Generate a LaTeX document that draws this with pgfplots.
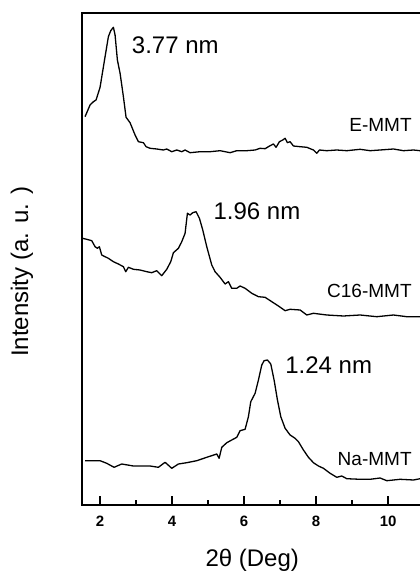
\documentclass[border=0pt]{standalone}
\usepackage{fontspec}
\setmainfont{Liberation Sans}
\usepackage{pgfplots}
\pgfplotsset{compat=1.18}
\pgfplotsset{xrd/.style={black, line width=1.3pt, line join=round, mark=none}}

\begin{document}
\begin{tikzpicture}
\begin{axis}[
    scale only axis,
    width=341pt, height=492pt,
    at={(81.7pt,66pt)}, anchor=south west,
    xmin=1.49, xmax=10.96, ymin=0, ymax=492,
    xtick={2,4,6,8,10}, minor xtick={3,5,7,9},
    ytick=\empty,
    xtick pos=bottom, tick align=inside,
    major tick length=9pt, minor tick length=5pt,
    every tick/.style={black, line width=1.4pt},
    axis line style={line width=2pt},
    /pgf/number format/assume math mode=true,
    xticklabel style={font=\bfseries\fontsize{15}{15}\selectfont, anchor=base, yshift=-21pt},
    xlabel={2θ (Deg)},
    ylabel={Intensity (a. u. )},
    xlabel style={font=\fontsize{24}{24}\selectfont, at={(axis description cs:0.5,-0.112)}, anchor=center},
    ylabel style={font=\fontsize{24}{24}\selectfont, at={(axis description cs:-0.175,0.474)}, anchor=center},
]

% E-MMT
\addplot[xrd] coordinates {
(1.583,388.3) (1.722,400) (1.815,403.3) (1.889,405) (2.0,417.7) (2.139,448.3)
(2.231,468.3) (2.296,474.3) (2.370,477.7) (2.417,470) (2.481,445) (2.556,431.7)
(2.648,408.3) (2.722,387.7) (2.833,382.3) (2.972,370) (3.065,363.3) (3.204,362.3)
(3.278,358.3) (3.389,356.7) (3.574,356) (3.759,355) (3.852,356) (3.991,353.3)
(4.130,355) (4.269,353.3) (4.361,355) (4.500,352.3) (4.778,353.3) (5.056,353.3)
(5.333,354.3) (5.611,352.3) (5.796,354.3) (6.074,354.3) (6.306,355) (6.444,356.7)
(6.583,356.3) (6.722,359.3) (6.815,361) (6.889,357.7) (6.981,363.3) (7.074,365)
(7.139,366.7) (7.204,362.3) (7.278,363.3) (7.370,359) (7.556,358.3) (7.741,357.7)
(7.926,355) (8.019,351.7) (8.093,355) (8.296,354.3) (8.574,355) (8.852,354.3)
(9.222,355.7) (9.500,354.3) (9.778,355) (10.148,356) (10.426,354.3) (10.704,355)
(10.889,354.3)
};

% C16-MMT
\addplot[xrd] coordinates {
(1.491,278.3) (1.509,266.7) (1.630,265.7) (1.769,264.3) (1.861,258.3) (1.926,256.7)
(1.981,258.3) (2.046,250) (2.139,248.3) (2.231,246.7) (2.370,243.3) (2.509,241)
(2.648,238.3) (2.713,233.3) (2.787,237.7) (2.926,235.7) (3.111,235) (3.296,233.3)
(3.435,232.3) (3.574,234.3) (3.713,229.3) (3.852,235.7) (3.963,243.3) (4.037,252.3)
(4.176,256.7) (4.269,263.3) (4.361,271.7) (4.426,291.7) (4.500,290) (4.574,292.3)
(4.667,293.3) (4.759,286.7) (4.852,275) (4.963,258.3) (5.102,240) (5.194,233.3)
(5.333,227.7) (5.472,221) (5.565,223.3) (5.657,216.7) (5.796,216.7) (5.889,219)
(6.028,216.7) (6.213,211.7) (6.398,208.3) (6.583,207.7) (6.769,203.3) (6.954,199)
(7.139,194.3) (7.278,195.7) (7.556,195) (7.741,190) (7.926,191.7) (8.296,190)
(8.759,189) (9.222,190) (9.685,188.3) (10.148,190) (10.519,188.3) (10.889,188.3)
};

% Na-MMT
\addplot[xrd] coordinates {
(1.583,44.3) (2.0,44.3) (2.185,41.7) (2.389,37.7) (2.602,41) (2.926,39)
(3.389,39) (3.620,37.7) (3.806,42.7) (3.991,36.7) (4.176,41) (4.407,42.3)
(4.685,44.3) (4.963,47.7) (5.241,51) (5.306,46.7) (5.380,57.7) (5.519,62.3)
(5.657,65) (5.796,67.7) (5.889,74.3) (6.028,75.7) (6.120,88.3) (6.185,103.3)
(6.306,111.7) (6.398,125) (6.491,140) (6.556,144.3) (6.648,145) (6.741,141)
(6.833,125) (6.926,105) (7.019,88.3) (7.139,76.7) (7.278,70) (7.417,66.7)
(7.509,63.3) (7.648,55) (7.787,47.7) (7.926,42.3) (8.065,39) (8.204,36.7)
(8.389,31.7) (8.574,27.7) (8.713,29) (8.852,26.3) (9.222,25.7) (9.500,25.7)
(9.778,27) (9.963,24.3) (10.333,25.7) (10.704,25) (10.889,26.3)
};

\node[anchor=base west, inner sep=0pt, font=\fontsize{24}{24}\selectfont] at (axis cs:2.88,451.7) {3.77 nm};
\node[anchor=base west, inner sep=0pt, font=\fontsize{24}{24}\selectfont] at (axis cs:5.147,285.7) {1.96 nm};
\node[anchor=base west, inner sep=0pt, font=\fontsize{24}{24}\selectfont] at (axis cs:7.139,131.7) {1.24 nm};
\node[anchor=base east, inner sep=0pt, font=\fontsize{19}{19}\selectfont] at (axis cs:10.658,373) {E-MMT};
\node[anchor=base east, inner sep=0pt, font=\fontsize{19}{19}\selectfont] at (axis cs:10.658,207) {C16-MMT};
\node[anchor=base east, inner sep=0pt, font=\fontsize{19}{19}\selectfont] at (axis cs:10.658,40) {Na-MMT};
\end{axis}
\pgfresetboundingbox
\path[use as bounding box] (0,0) rectangle (420pt,571pt);
\end{tikzpicture}
\end{document}
